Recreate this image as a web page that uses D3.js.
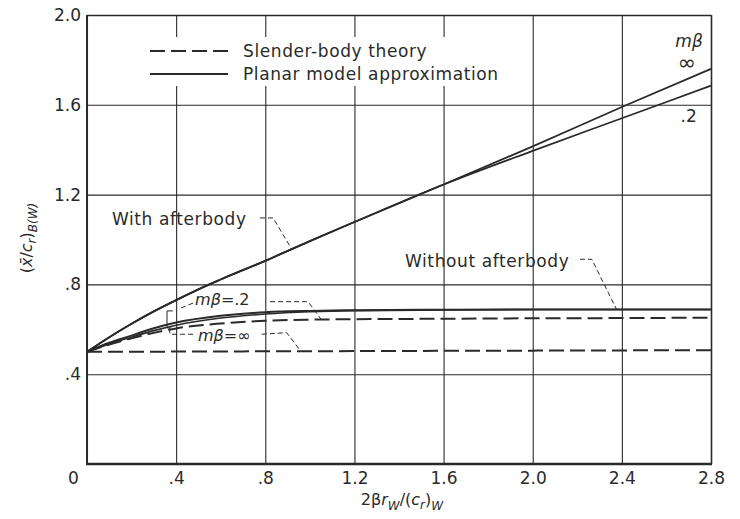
<!DOCTYPE html>
<html><head><meta charset="utf-8">
<script src="https://cdn.jsdelivr.net/npm/d3@7"></script>
<style>
html,body{margin:0;padding:0;background:#fff;}
svg{display:block;font-family:"DejaVu Sans",sans-serif;}
</style></head>
<body>
<svg id="chart" width="740" height="519"></svg>
<script>
// ---- data ----
const xTicks = [0, 0.4, 0.8, 1.2, 1.6, 2.0, 2.4, 2.8];
const xTickLabels = ["0", ".4", ".8", "1.2", "1.6", "2.0", "2.4", "2.8"];
const yTicks = [0.4, 0.8, 1.2, 1.6, 2.0];
const yTickLabels = [".4", ".8", "1.2", "1.6", "2.0"];

// With afterbody (planar model approximation)
const xWith = [0, 0.1, 0.2, 0.3, 0.4, 0.5, 0.6, 0.8, 1.0, 1.2, 1.6, 2.0, 2.4, 2.8];
const withInf = [0.5, 0.565, 0.625, 0.68, 0.73, 0.778, 0.822, 0.905, 0.993, 1.078, 1.245, 1.415, 1.59, 1.76];
const with02  = [0.5, 0.565, 0.625, 0.68, 0.73, 0.778, 0.822, 0.905, 0.993, 1.078, 1.245, 1.395, 1.54, 1.685];

// Without afterbody
const xWo = [0, 0.1, 0.2, 0.3, 0.4, 0.6, 0.8, 1.0, 1.2, 1.6, 2.0, 2.4, 2.8];
const planar02  = [0.5, 0.54, 0.572, 0.605, 0.63, 0.66, 0.676, 0.682, 0.685, 0.687, 0.688, 0.688, 0.688];
const planarInf = [0.5, 0.535, 0.565, 0.594, 0.618, 0.65, 0.668, 0.678, 0.683, 0.686, 0.688, 0.688, 0.688];
const slender02 = [0.5, 0.532, 0.56, 0.584, 0.604, 0.626, 0.638, 0.643, 0.645, 0.647, 0.649, 0.65, 0.652];
const slenderInf = [0.5, 0.5, 0.5, 0.5, 0.501, 0.501, 0.502, 0.502, 0.503, 0.504, 0.505, 0.506, 0.507];

const legendLabels = ["Slender-body theory", "Planar model approximation"];

// ---- layout ----
const svg = d3.select("#chart");
const ink = "#2a2a2a";
const x = d3.scaleLinear().domain([0, 2.8]).range([87, 711]);
const y = d3.scaleLinear().domain([0, 2.0]).range([464, 15]);

// grid via axes
const gx = svg.append("g").attr("transform", `translate(0,${y(0)})`)
  .call(d3.axisBottom(x).tickValues(xTicks).tickSize(-(y(0) - y(2.0)))
        .tickFormat((d, i) => xTickLabels[i]).tickPadding(8));
gx.select(".domain").remove();
gx.selectAll("line").attr("stroke", ink).attr("stroke-width", 1.1);
gx.selectAll("text").attr("font-size", 17).attr("fill", ink).attr("font-family", "DejaVu Sans");
gx.selectAll(".tick").filter(d => d === 0).select("text").attr("dx", -14);
gx.selectAll(".tick").filter(d => d === 2.8).select("line").attr("stroke-width", 1.6);

const gy = svg.append("g").attr("transform", `translate(${x(0)},0)`)
  .call(d3.axisLeft(y).tickValues(yTicks).tickSize(-(x(2.8) - x(0)))
        .tickFormat((d, i) => yTickLabels[i]).tickPadding(6));
gy.select(".domain").remove();
gy.selectAll("line").attr("stroke", ink).attr("stroke-width", 1.1);
gy.selectAll(".tick").filter(d => d === 2.0).select("line").attr("stroke-width", 1.6);
gy.selectAll("text").attr("font-size", 17).attr("fill", ink).attr("font-family", "DejaVu Sans");

// main axes lines (thicker)
svg.append("line").attr("x1", x(0)).attr("x2", x(0)).attr("y1", y(2.0)).attr("y2", y(0) + 1)
  .attr("stroke", ink).attr("stroke-width", 2);
svg.append("line").attr("x1", x(0) - 1).attr("x2", x(2.8) + 1).attr("y1", y(0)).attr("y2", y(0))
  .attr("stroke", ink).attr("stroke-width", 2.4);

// legend (white box interrupting gridlines)
svg.append("rect").attr("x", 140).attr("y", 37).attr("width", 385).attr("height", 49).attr("fill", "#fff");
const lg = svg.append("g");
lg.append("line").attr("x1", 150).attr("x2", 228).attr("y1", 51).attr("y2", 51)
  .attr("stroke", ink).attr("stroke-width", 2).attr("stroke-dasharray", "15,6");
lg.append("line").attr("x1", 150).attr("x2", 228).attr("y1", 74).attr("y2", 74)
  .attr("stroke", ink).attr("stroke-width", 2);
lg.append("text").attr("x", 243).attr("y", 57).attr("font-size", 17).attr("fill", ink)
  .attr("letter-spacing", 0.6).text(legendLabels[0]);
lg.append("text").attr("x", 243).attr("y", 80).attr("font-size", 17).attr("fill", ink)
  .attr("letter-spacing", 0.6).text(legendLabels[1]);

// curves
const line = d3.line().x(d => x(d[0])).y(d => y(d[1])).curve(d3.curveMonotoneX);
function draw(xs, ys, dashed, w) {
  svg.append("path").datum(xs.map((v, i) => [v, ys[i]]))
    .attr("d", line).attr("fill", "none").attr("stroke", ink)
    .attr("stroke-width", w).attr("stroke-dasharray", dashed ? "15,6" : null);
}
draw(xWo, slenderInf, true, 2);
draw(xWo, slender02, true, 2);
draw(xWo, planarInf, false, 1.6);
draw(xWo, planar02, false, 2);
draw(xWith, with02, false, 1.8);
draw(xWith, withInf, false, 1.8);

// annotations (in data units)
const ann = svg.append("g").attr("fill", "none").attr("stroke", ink).attr("stroke-width", 1)
  .attr("stroke-dasharray", "5,3");
const pl = d3.line().x(d => x(d[0])).y(d => y(d[1]));
const leaders = [
  [[0.776, 1.096], [0.835, 1.096], [0.918, 0.958]],
  [[2.212, 0.912], [2.265, 0.912], [2.377, 0.687]],
  [[0.821, 0.723], [0.992, 0.723], [1.053, 0.641]],
  [[0.784, 0.578], [0.896, 0.585], [0.956, 0.507]],
  [[0.476, 0.717], [0.41, 0.69]],
  [[0.37, 0.604], [0.372, 0.578], [0.49, 0.578]]
];
leaders.forEach(p => ann.append("path").attr("d", pl(p)));
svg.append("path").attr("d", pl([[0.385, 0.682], [0.359, 0.682], [0.359, 0.606], [0.38, 0.606]]))
  .attr("fill", "none").attr("stroke", ink).attr("stroke-width", 1);

const tx = svg.append("g").attr("fill", ink).attr("font-size", 17);
tx.append("text").attr("x", x(0.112)).attr("y", y(1.065)).attr("letter-spacing", 0.6).text("With afterbody");
tx.append("text").attr("x", x(1.427)).attr("y", y(0.879)).attr("letter-spacing", 0.6).text("Without afterbody");

function mbeta(xv, yv, rest, size) {
  const t = svg.append("text").attr("x", x(xv)).attr("y", y(yv)).attr("fill", ink).attr("font-size", size);
  t.append("tspan").attr("font-style", "italic").text("m\u03B2");
  if (rest) t.append("tspan").text(rest);
  return t;
}
mbeta(0.485, 0.708, "=.2", 16);
mbeta(0.498, 0.55, "=\u221E", 16);
mbeta(2.64, 1.857, null, 17);
svg.append("text").attr("x", x(2.692)).attr("y", y(1.755)).attr("text-anchor", "middle")
  .attr("fill", ink).attr("font-size", 22).text("\u221E");
svg.append("text").attr("x", x(2.70)).attr("y", y(1.523)).attr("text-anchor", "middle")
  .attr("fill", ink).attr("font-size", 17).text(".2");

// axis titles
const xt = svg.append("text").attr("x", 402).attr("y", 505).attr("text-anchor", "middle")
  .attr("fill", ink).attr("font-size", 16);
xt.append("tspan").text("2\u03B2");
xt.append("tspan").attr("font-style", "italic").text("r");
xt.append("tspan").attr("font-size", 12).attr("dy", 5).attr("font-style", "italic").text("W");
xt.append("tspan").attr("dy", -5).text("/(");
xt.append("tspan").attr("font-style", "italic").text("c");
xt.append("tspan").attr("font-size", 12).attr("dy", 4).attr("font-style", "italic").text("r");
xt.append("tspan").attr("dy", -4).text(")");
xt.append("tspan").attr("font-size", 12).attr("dy", 5).attr("font-style", "italic").text("W");

const yt = svg.append("text").attr("transform", "translate(32,238) rotate(-90)")
  .attr("text-anchor", "middle").attr("fill", ink).attr("font-size", 16);
yt.append("tspan").text("(");
yt.append("tspan").attr("font-style", "italic").text("x\u0304");
yt.append("tspan").text("/");
yt.append("tspan").attr("font-style", "italic").text("c");
yt.append("tspan").attr("font-size", 12).attr("dy", 4).attr("font-style", "italic").text("r");
yt.append("tspan").attr("dy", -4).text(")");
yt.append("tspan").attr("font-size", 12).attr("dy", 5).attr("font-style", "italic").text("B(W)");
</script>
</body></html>
